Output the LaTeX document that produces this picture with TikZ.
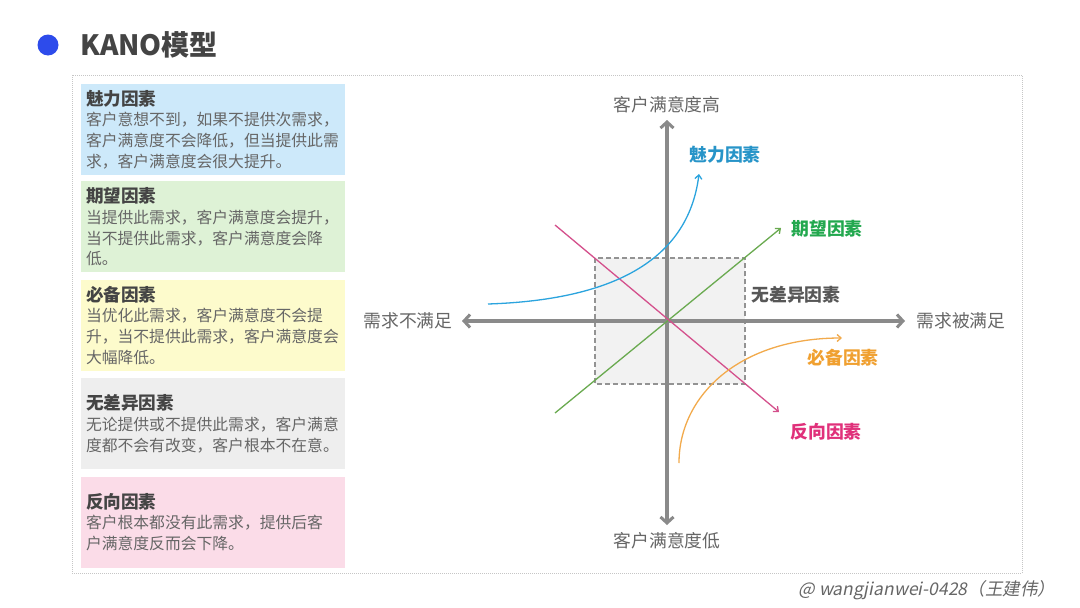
\documentclass[tikz,border=0pt]{standalone}
\usepackage{fontspec}
\setmainfont{Noto Sans CJK SC}
\newfontfamily\signfont[FakeSlant=0.2]{Noto Sans CJK SC}
\usetikzlibrary{arrows.meta,positioning}
\definecolor{txtdark}{HTML}{444444}
\definecolor{txtbody}{HTML}{666666}
\definecolor{axisgray}{HTML}{8A8A8A}
\definecolor{fillblue}{HTML}{CDE9FA}
\definecolor{fillgreen}{HTML}{DEF2D6}
\definecolor{fillyellow}{HTML}{FDFBCC}
\definecolor{fillgray}{HTML}{EEEEEE}
\definecolor{fillpink}{HTML}{FBDCE8}
\definecolor{kblue}{HTML}{2BA4DE}
\definecolor{kgreen}{HTML}{6AAA50}
\definecolor{kgreenlbl}{HTML}{22A84E}
\definecolor{kpink}{HTML}{D4508C}
\definecolor{kpinklbl}{HTML}{E0307A}
\definecolor{korange}{HTML}{F2AA4C}
\definecolor{korangelbl}{HTML}{F0A030}
\definecolor{dotblue}{HTML}{2D4BEB}
\newcommand{\factortitle}[1]{{\fontsize{17.6}{21}\selectfont\bfseries\color{txtdark}#1}}

\begin{document}
\begin{tikzpicture}[
      x=1pt, y=-1pt,
      font=\fontsize{15.8}{20.8}\selectfont,
      factor/.style={minimum width=264pt, minimum height=91pt, inner sep=0pt,
                     text width=254pt, align=left, text=txtbody},
      axis/.style={axisgray, line width=4pt,
                   {Straight Barb[length=6pt, width=13pt, line width=3pt]}-{Straight Barb[length=6pt, width=13pt, line width=3pt]}},
      curve/.style={line width=1.3pt, -{Straight Barb[length=4pt, width=7pt]}},
      axlbl/.style={text=txtbody, font=\fontsize{17.8}{20}\selectfont},
      klbl/.style={font=\fontsize{17.8}{20}\selectfont\bfseries}
    ]
    \useasboundingbox[fill=white] (0,0) rectangle (1080,608);

    % title
    \fill[dotblue] (48,45) circle (10.5pt);
    \node[anchor=west, text=txtdark, font=\fontsize{28}{30}\selectfont\bfseries] (title) at (77,45) {KANO模型};

    % frame
    \draw[gray!45, line width=0.6pt, dash pattern=on 1pt off 1pt] (72,75) rectangle (1022,573);

    % factor boxes
    \node[factor, fill=fillblue] (meili) at (213,129.5)
      {\factortitle{魅力因素}\\ 客户意想不到，如果不提供次需求，\\ 客户满意度不会降低，但当提供此需\\ 求，客户满意度会很大提升。};
    \node[factor, fill=fillgreen, below=6pt of meili] (qiwang)
      {\factortitle{期望因素}\\ 当提供此需求，客户满意度会提升，\\ 当不提供此需求，客户满意度会降\\ 低。};
    \node[factor, fill=fillyellow, below=7pt of qiwang] (bibei)
      {\factortitle{必备因素}\\ 当优化此需求，客户满意度不会提\\ 升，当不提供此需求，客户满意度会\\ 大幅降低。};
    \node[factor, fill=fillgray, below=7pt of bibei] (wuchayi)
      {\factortitle{无差异因素}\\ 无论提供或不提供此需求，客户满意\\ 度都不会有改变，客户根本不在意。};
    \node[factor, fill=fillpink, below=7pt of wuchayi] (fanxiang)
      {\factortitle{反向因素}\\ 客户根本都没有此需求，提供后客\\ 户满意度反而会下降。};

    % indifferent zone
    \draw[fill=gray!10, draw=gray!85, line width=1.3pt, dash pattern=on 5pt off 3pt]
      (595,258) rectangle (745,384);
    \node[klbl, text=txtdark!90, anchor=west] (wuchayi-lbl) at (748,295) {无差异因素};

    % axes
    \coordinate (o) at (667,321);
    \coordinate (xl) at (462,321);
    \coordinate (xr) at (905,321);
    \coordinate (yt) at (667,120);
    \coordinate (yb) at (667,525);
    \draw[axis] (xl) -- (xr);
    \draw[axis] (yb) -- (yt);
    \node[axlbl, above=3pt of yt] (high) {客户满意度高};
    \node[axlbl, below=4pt of yb] (low) {客户满意度低};
    \node[axlbl, left=6pt of xl] (unmet) {需求不满足};
    \node[axlbl, right=8pt of xr] (met) {需求被满足};

    % factor curves
    \coordinate (qw-s) at (555,413);
    \coordinate (qw-e) at (781,228);
    \coordinate (fx-s) at (555,225);
    \coordinate (fx-e) at (779,412);
    \coordinate (ml-s) at (488,304);
    \coordinate (ml-e) at (699,174);
    \coordinate (bb-s) at (679,463);
    \coordinate (bb-e) at (842,338);
    \draw[curve, kgreen] (qw-s) -- (qw-e);
    \draw[curve, kpink] (fx-s) -- (fx-e);
    \draw[curve, kblue] (ml-s) .. controls (610,300) and (688,262) .. (ml-e);
    \draw[curve, korange] (bb-s) .. controls (679,395) and (740,338) .. (bb-e);

    \node[klbl, text=kblue!90!black] (ml-lbl) at (725,155) {魅力因素};
    \node[klbl, text=kgreenlbl] (qw-lbl) at (827,229) {期望因素};
    \node[klbl, text=korangelbl] (bb-lbl) at (843,358) {必备因素};
    \node[klbl, text=kpinklbl] (fx-lbl) at (826,432) {反向因素};

    % signature
    \node[anchor=west, text=txtbody, font=\fontsize{17.5}{20}\signfont] (sign) at (795,590)
      {@ wangjianwei-0428（王建伟）};
  \end{tikzpicture}
\end{document}
